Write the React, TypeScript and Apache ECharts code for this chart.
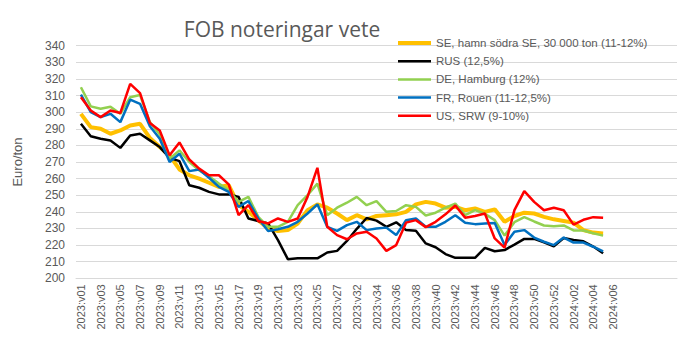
import React, { useEffect, useRef } from "react";
import * as echarts from "echarts";

const weeks = [
  "2023:v01", "2023:v02", "2023:v03", "2023:v04", "2023:v05", "2023:v06", "2023:v07", "2023:v08", "2023:v09", "2023:v10",
  "2023:v11", "2023:v12", "2023:v13", "2023:v14", "2023:v15", "2023:v16", "2023:v17", "2023:v18", "2023:v19", "2023:v20",
  "2023:v21", "2023:v22", "2023:v23", "2023:v24", "2023:v25", "2023:v26", "2023:v27", "2023:v31", "2023:v32", "2023:v33",
  "2023:v34", "2023:v35", "2023:v36", "2023:v37", "2023:v38", "2023:v39", "2023:v40", "2023:v41", "2023:v42", "2023:v43",
  "2023:v44", "2023:v45", "2023:v46", "2023:v47", "2023:v48", "2023:v49", "2023:v50", "2023:v51", "2023:v52", "2024:v01",
  "2024:v02", "2024:v03", "2024:v04", "2024:v05", "2024:v06",
];
// empty slots that Excel leaves at the right end of the category axis
const emptySlots = ["_1", "_2", "_3", "_4", "_5", "_6"];

const seriesNames = [
  "SE, hamn södra SE, 30 000 ton (11-12%)",
  "RUS (12,5%)",
  "DE, Hamburg (12%)",
  "FR, Rouen (11-12,5%)",
  "US, SRW (9-10%)",
];

const se = [299, 291, 290, 287, 289, 292, 293, 284.5, 279, 274, 265.5, 262, 260, 257.5, 255, 256, 244, 240, 235, 230, 228.5, 229, 233, 241, 244.5, 242.5, 239, 235, 238, 235.5, 237.5, 238, 238.5, 240, 244.5, 246, 245, 242.5, 243, 241, 242, 240, 241.5, 234, 237.5, 239.5, 239, 237, 235.5, 234.5, 233.5, 229, 227.5, 227];
const rus = [293, 285.5, 284, 283, 278.5, 286, 287, 283, 279, 272.5, 270.5, 256, 254.5, 252, 250.5, 250.5, 249, 236, 234.5, 233, 223, 211.5, 212, 212, 212, 215.5, 216.5, 222.5, 229.8, 236.3, 234.7, 231, 233.7, 229, 228.6, 221, 218.7, 214.6, 212.3, 212.3, 212.3, 218.3, 216.3, 217, 220.3, 223.7, 223.7, 221.7, 219.3, 224.3, 223.1, 222.3, 219.1, 215.1];
const de = [315, 303.5, 302, 303.3, 299, 309, 310.3, 294, 286.5, 272, 277, 270, 265, 261.5, 257, 253, 246, 249, 237, 231, 231, 234, 244, 250, 257, 238, 242.5, 245.5, 249, 244, 246.5, 240, 240.5, 244, 243, 237.8, 239.5, 242.5, 245, 238, 241, 238.8, 235, 225.7, 233.8, 236.8, 234.2, 231.8, 231.4, 231.8, 228.8, 228.8, 227.1, 225.7];
const fr = [310.5, 300, 297, 299, 294, 307.5, 305, 291.5, 284, 270, 275, 264.5, 265.5, 260.5, 255, 252, 243, 246.5, 236, 228.5, 229.5, 231, 234, 239, 244.5, 231, 228.5, 232, 234, 229, 230, 230.5, 226, 235, 236, 231, 231, 234, 238, 233.5, 232.6, 233, 233.3, 220, 228, 229, 224.5, 222, 220, 224.5, 221.5, 221.5, 219, 216.2];
const us = [309, 301, 297, 301, 299.5, 317, 311.5, 293.5, 289, 274, 281.8, 271.5, 266, 262, 262, 256.5, 238, 244, 234.5, 233, 236, 234, 236, 249, 266.5, 231, 226, 223.5, 227, 228, 224, 216.5, 220, 233.5, 235, 230.8, 234, 238.5, 243.8, 236.5, 237.5, 239, 224, 218.5, 241, 252.5, 246, 241, 242.5, 241, 232.3, 235.2, 236.8, 236.5];

const colors = ["#FFC000", "#000000", "#92D050", "#0070C0", "#FF0000"];
const widths = [4, 2.5, 2.5, 2.5, 2.5];
const values = [se, rus, de, fr, us];

export default function App() {
  const ref = useRef<HTMLDivElement>(null);
  useEffect(() => {
    if (!ref.current) return;
    const chart = echarts.init(ref.current, undefined, { renderer: "svg" });
    const textColor = "#595959";
    const font = "Liberation Sans";
    chart.setOption({
      animation: false,
      backgroundColor: "#ffffff",
      title: {
        text: "FOB noteringar vete",
        left: 277,
        top: 13,
        textAlign: "center",
        textStyle: { fontSize: 21, fontWeight: "normal", color: textColor, fontFamily: "Open Sans" },
      },
      legend: {
        orient: "vertical",
        left: 393,
        top: 32,
        itemWidth: 33,
        itemHeight: 12,
        itemGap: 6.2,
        symbolKeepAspect: true,
        data: seriesNames.map((name, k) => ({
          name,
          icon: `path://M0,0H33V${widths[k]}H0Z`,
          itemStyle: { color: colors[k] },
        })),
        textStyle: { fontSize: 11.5, color: textColor, fontFamily: font },
      },
      grid: { left: 76, right: 7, top: 45.7, bottom: 71.7, containLabel: false },
      xAxis: {
        type: "category",
        boundaryGap: true,
        data: [...weeks, ...emptySlots],
        axisLine: { show: true, lineStyle: { color: "#D9D9D9", width: 1 } },
        axisTick: { show: false },
        axisLabel: {
          interval: 1,
          rotate: 90,
          margin: 6,
          fontSize: 11,
          color: textColor,
          fontFamily: font,
          formatter: (v: string, i: number) => (i < weeks.length ? v : ""),
        },
        splitLine: { show: false },
      },
      yAxis: {
        type: "value",
        min: 200,
        max: 340,
        interval: 10,
        name: "Euro/ton",
        nameLocation: "middle",
        nameGap: 52,
        nameRotate: 90,
        nameTextStyle: { fontSize: 13, color: textColor, fontFamily: font },
        axisLine: { show: false },
        axisTick: { show: false },
        axisLabel: { fontSize: 12, color: textColor, fontFamily: font, margin: 11 },
        splitLine: { show: true, lineStyle: { color: "#D9D9D9", width: 1 } },
      },
      series: seriesNames.map((name, k) => ({
        name,
        type: "line",
        data: values[k],
        symbol: "none",
        showSymbol: false,
        smooth: false,
        color: colors[k],
        lineStyle: { color: colors[k], width: widths[k] },
        z: 2 + k,
      })),
    });
    return () => chart.dispose();
  }, []);
  return (
    <div
      ref={ref}
      style={{ position: "fixed", left: 0, top: 0, width: 684, height: 350, background: "#fff" }}
    />
  );
}
